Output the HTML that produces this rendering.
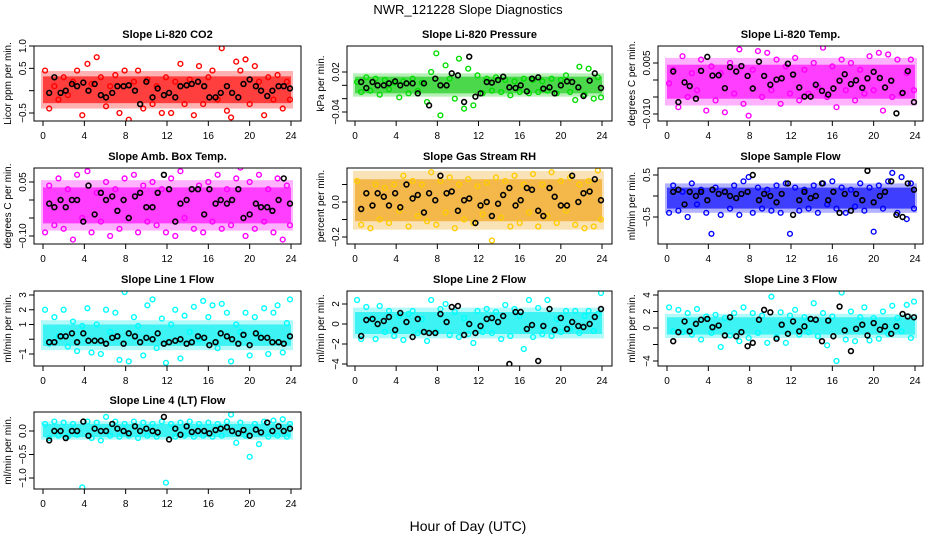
<!DOCTYPE html>
<html><head><meta charset="utf-8">
<style>
html,body{margin:0;padding:0;background:#fff;}
svg{display:block;font-family:"Liberation Sans",Arial,sans-serif;}
</style></head>
<body>
<svg id="chart" width="936" height="540" viewBox="0 0 936 540" xmlns="http://www.w3.org/2000/svg">
<rect width="936" height="540" fill="#fff"/>
<text x="468" y="14" text-anchor="middle" font-size="13">NWR_121228  Slope Diagnostics</text>
<text x="468" y="531" text-anchor="middle" font-size="14">Hour of Day (UTC)</text>
</svg>
<script>
const xTicks = [0,4,8,12,16,20,24];
const colorHours = [0.2,0.6,1.1,1.5,2.0,2.4,2.9,3.3,3.8,4.3,4.7,5.2,5.6,6.1,6.5,7.0,7.4,7.9,8.3,8.8,9.2,9.7,10.1,10.6,11.0,11.5,11.9,12.4,12.8,13.3,13.7,14.2,14.6,15.1,15.5,16.0,16.4,16.9,17.3,17.8,18.2,18.7,19.1,19.6,20.0,20.5,20.9,21.4,21.8,22.3,22.7,23.2,23.6,23.9];
const blackHours = [0.6,1.1,1.7,2.2,2.8,3.3,3.9,4.4,5.0,5.6,6.1,6.7,7.2,7.8,8.3,8.9,9.4,10.0,10.6,11.1,11.7,12.2,12.8,13.3,13.9,14.4,15.0,15.6,16.1,16.7,17.2,17.8,18.3,18.9,19.4,20.0,20.6,21.1,21.7,22.2,22.8,23.3,23.9];

const co2Color = [0.45,-0.4,0.1,-0.2,0.3,-0.1,0.2,0.45,-0.55,0.6,0.15,0.75,0.3,-0.35,0.1,0.35,-0.5,0.45,-0.65,0.2,0.45,-0.4,0.25,-0.3,0.1,-0.5,0.3,-0.5,0.2,0.6,-0.3,0.25,-0.55,0.55,-0.3,0.3,0.45,-0.2,0.95,-0.45,-0.6,0.65,0.45,0.7,-0.3,0.55,0.2,-0.55,0.3,-0.2,0.35,-0.4,0.2,-0.2];
const co2Black = [-0.05,0.3,-0.05,0.0,0.15,0.1,0.18,0.0,0.15,-0.1,-0.15,-0.05,0.1,0.1,0.12,0.0,-0.3,0.2,-0.15,0.05,-0.1,-0.05,-0.15,0.1,0.12,0.15,0.2,0.1,-0.15,-0.15,-0.05,0.1,-0.05,-0.15,0.15,0.25,0.1,0.0,-0.12,0.0,0.1,0.1,0.05];
const presColor = [0.005,-0.01,0.012,-0.008,0.01,-0.014,0.008,-0.006,0.004,-0.018,0.006,-0.012,0.01,-0.008,0.004,-0.025,0.02,0.048,-0.045,0.03,0.01,-0.02,0.04,-0.035,0.025,-0.03,0.015,-0.012,0.01,-0.008,0.012,-0.01,0.008,-0.015,0.006,-0.01,0.01,-0.012,0.008,-0.01,0.006,-0.008,0.01,-0.012,0.008,0.015,-0.01,-0.022,0.028,-0.014,0.025,-0.02,0.012,-0.018];
const presBlack = [0.005,-0.004,0.005,0.0,0.0,0.003,0.006,0.0,0.003,0.003,-0.012,0.003,-0.03,0.01,0.0,0.0,0.018,0.015,-0.025,0.043,-0.017,-0.012,0.005,0.004,0.008,0.013,-0.003,-0.004,0.0,-0.009,0.01,0.012,-0.005,-0.003,-0.012,0.0,0.006,0.005,-0.003,-0.016,0.007,0.018,-0.004];
const ltempColor = [-0.001,0.003,-0.008,0.007,-0.005,0.002,-0.003,0.006,-0.009,0.004,-0.006,0.002,-0.0095,0.005,-0.004,0.009,-0.007,-0.0105,0.003,0.0085,-0.005,0.008,-0.003,0.006,-0.007,0.004,-0.004,0.0065,-0.006,0.003,-0.004,0.005,-0.002,0.0095,-0.005,0.004,-0.008,0.006,-0.003,0.005,-0.006,0.003,-0.004,0.007,-0.003,0.008,-0.009,0.0075,-0.005,0.006,-0.004,0.002,0.006,-0.003];
const ltempBlack = [0.0025,-0.0065,-0.0007,-0.0018,-0.0055,0.0027,0.0068,0.0013,0.0014,-0.0024,0.0038,0.0025,0.0041,0.0012,-0.0025,0.0054,0.0012,-0.0014,0.0001,0.0005,0.0048,0.0016,-0.0022,-0.0049,-0.0049,-0.0014,-0.0032,-0.0043,-0.0025,-0.0002,0.0017,-0.0012,-0.0001,-0.0023,0.0005,0.0024,0.0006,-0.0022,-0.0002,-0.0098,-0.0038,0.0026,-0.0065];
const ambColor = [-0.09,0.04,-0.07,0.06,-0.08,0.03,-0.11,0.07,-0.05,0.08,-0.09,0.02,-0.06,0.05,-0.1,0.03,-0.08,0.06,-0.05,0.07,-0.09,0.04,-0.06,0.05,-0.07,0.03,-0.09,0.06,-0.1,0.08,-0.05,0.1,-0.08,0.04,-0.09,0.05,-0.06,0.07,-0.08,0.03,-0.07,0.06,0.09,-0.1,0.05,-0.08,0.07,-0.06,0.03,-0.09,0.06,-0.11,0.04,-0.07];
const ambBlack = [-0.01,-0.02,0.0,-0.02,0.0,0.0,-0.06,0.04,-0.04,0.02,0.0,0.01,-0.03,0.0,-0.05,0.01,0.02,-0.02,-0.02,0.02,0.07,0.03,-0.06,-0.01,0.0,0.03,0.03,-0.04,0.03,-0.01,0.0,-0.01,0.0,0.03,-0.05,-0.04,-0.01,-0.02,-0.02,-0.03,0.0,0.06,-0.01];
const rhColor = [0.12,-0.13,0.05,-0.15,0.1,-0.1,0.08,-0.12,0.1,-0.05,0.15,-0.14,0.12,-0.08,0.1,-0.11,0.17,-0.13,0.12,-0.06,0.14,-0.15,0.1,-0.1,0.13,-0.12,0.09,-0.07,0.11,-0.22,0.14,-0.09,0.12,-0.14,0.15,-0.12,0.1,-0.06,0.16,-0.14,0.1,-0.08,0.17,-0.12,0.12,-0.05,0.14,-0.13,0.1,-0.15,0.12,-0.14,0.18,-0.1];
const rhBlack = [-0.04,0.05,-0.02,0.05,0.03,-0.02,0.05,-0.03,0.1,0.02,0.04,-0.06,0.05,0.01,0.15,0.05,0.06,-0.05,0.01,0.02,-0.12,-0.02,0.0,-0.08,-0.01,0.04,0.08,-0.02,0.01,0.08,0.07,-0.05,-0.08,0.08,0.03,-0.02,-0.02,0.15,0.0,0.05,0.06,0.13,0.01];
const sampColor = [-0.4,0.25,-0.35,0.1,-0.5,0.3,-0.2,0.15,-0.4,-0.9,0.2,-0.45,0.1,-0.3,0.25,-0.45,0.35,0.45,-0.4,0.2,-0.3,0.15,-0.35,0.25,-0.4,0.3,-0.9,0.2,-0.35,0.15,-0.3,0.25,-0.4,0.3,-0.2,0.35,-0.3,0.2,-0.4,0.15,-0.25,0.3,-0.35,0.2,-0.85,0.25,-0.3,0.35,0.55,-0.4,0.45,-0.55,0.3,-0.3];
const sampBlack = [0.1,0.15,-0.2,0.1,0.0,0.1,-0.1,0.15,0.05,0.1,0.0,-0.05,0.05,0.1,0.5,-0.1,0.05,0.0,-0.15,0.05,0.3,-0.45,-0.1,0.1,-0.05,0.0,0.3,-0.1,0.1,-0.4,0.05,-0.35,0.05,-0.1,0.6,-0.15,0.0,0.1,0.35,-0.45,-0.5,0.3,0.15];
const l1Color = [2.0,-0.3,1.5,0.2,2.0,-0.5,1.2,-0.8,0.9,2.1,-0.9,1.0,-1.0,2.0,0.5,1.8,-1.4,3.2,-1.5,1.5,0.9,-1.1,2.3,2.7,-0.6,1.4,-1.6,1.0,2.0,-1.3,1.6,0.5,2.2,0.0,2.6,1.5,2.3,-0.6,2.4,1.8,-1.5,1.0,0.5,1.8,-1.1,1.5,0.3,2.1,-1.0,1.8,2.3,-0.9,1.1,2.7];
const l1Black = [-0.2,-0.2,0.2,0.2,0.4,-0.2,0.4,-0.1,-0.1,-0.1,-0.3,0.1,0.2,-0.3,0.4,0.2,-0.2,0.1,0.0,0.4,-0.3,-0.2,-0.1,0.0,-0.3,-0.2,0.2,0.1,-0.4,-0.2,0.4,0.2,0.0,-0.3,0.3,-0.4,0.4,0.1,0.1,-0.2,-0.2,-0.3,0.2];
const l2Color = [2.4,-1.5,1.7,0.5,-1.5,1.8,-0.8,1.3,-1.2,0.8,-1.6,1.0,1.3,-0.9,0.5,-1.7,2.4,-0.8,1.5,2.0,-1.1,1.2,-1.3,0.6,-1.0,-1.9,1.3,-0.8,1.5,-0.9,1.2,-1.5,1.9,-1.2,1.5,0.8,-2.5,2.4,-1.3,1.6,-1.0,2.4,-1.2,0.5,-0.8,1.3,-0.5,1.3,-0.9,0.8,1.3,-0.7,1.0,3.1];
const l2Black = [-1.2,0.4,0.5,0.0,0.3,0.7,-0.6,1.1,0.2,-1.3,0.5,-0.8,-0.9,-0.9,1.0,0.2,1.7,1.8,-1.1,0.0,-0.9,-0.2,0.5,0.6,0.2,0.8,-4.0,1.2,1.2,-0.5,-0.1,-3.7,-0.2,1.5,-0.6,0.6,-0.5,0.2,-0.2,-0.3,0.0,0.7,1.5];
const l3Color = [2.5,-0.4,2.2,-0.5,1.8,-0.8,2.3,-1.4,1.4,-0.6,1.6,-2.3,1.2,-0.9,1.8,-1.6,2.5,-1.2,1.8,-0.6,1.5,-1.8,3.8,-1.1,1.9,-1.8,1.5,2.2,-0.8,1.3,-0.5,3.0,-1.0,1.8,-2.1,1.4,-4.0,4.3,-1.4,2.0,-1.6,1.3,2.5,-1.5,1.2,-1.3,2.0,-0.7,2.7,1.2,-0.4,2.8,-1.2,3.2];
const l3Black = [-1.6,-0.5,0.8,-0.4,0.5,1.0,1.1,0.1,0.3,-0.9,1.3,-1.0,-0.5,-2.2,-1.8,1.0,2.2,1.9,-1.3,0.4,-0.7,0.8,-0.4,0.2,1.1,1.0,-1.6,0.9,-1.0,2.6,-0.3,-2.8,-0.1,0.4,-0.9,0.6,-0.2,0.2,-0.7,0.2,1.7,1.4,1.3];
const l4Color = [0.15,-0.15,0.2,-0.1,0.18,-0.12,0.15,-0.08,-1.2,0.2,-0.15,0.18,-0.2,0.3,-0.1,0.2,-0.12,0.15,-0.1,0.2,-0.15,0.18,-0.1,0.15,-0.12,0.2,-1.1,0.15,-0.12,0.18,-0.1,0.2,-0.12,0.15,-0.1,0.18,-0.12,0.15,-0.1,0.2,0.35,-0.25,0.18,-0.1,-0.55,0.15,-0.28,0.2,-0.12,0.22,-0.1,0.25,-0.12,0.15];
const l4Black = [-0.2,0.0,0.0,-0.15,0.0,0.0,0.2,-0.1,0.05,0.0,0.0,0.15,0.05,0.0,-0.05,0.1,0.0,0.05,0.0,-0.03,0.3,-0.18,0.05,-0.08,0.1,-0.02,0.0,0.0,-0.05,0.02,0.05,0.08,0.0,-0.05,0.02,-0.1,0.03,-0.03,0.18,0.0,0.1,0.0,0.05];

const bandCo2 = [-0.28,0.32];
const bandPres = [-0.012,0.013];
const bandLtemp = [-0.0055,0.0045];
const bandAmb = [-0.065,0.035];
const bandRh = [-0.11,0.13];
const bandSamp = [-0.3,0.2];
const bandL1 = [-0.45,1.0];
const bandL2 = [-1.0,1.2];
const bandL3 = [-0.8,1.3];
const bandL4 = [-0.13,0.15];

const ticksCo2 = [-0.5,0,0.5,1.0], labelsCo2 = ["\u22120.5","","0.5","1.0"];
const ticksPres = [-0.04,-0.02,0,0.02], labelsPres = ["\u22120.04","","","0.02"];
const ticksLtemp = [-0.01,-0.005,0,0.005], labelsLtemp = ["\u22120.010","","","0.005"];
const ticksAmb = [-0.1,-0.05,0,0.05], labelsAmb = ["\u22120.10","","","0.05"];
const ticksRh = [-0.2,-0.1,0,0.1], labelsRh = ["\u22120.2","","0.0",""];
const ticksSamp = [-0.5,0,0.5], labelsSamp = ["\u22120.5","","0.5"];
const ticksL1 = [-1,0,1,2,3], labelsL1 = ["\u22121","","1","2","3"];
const ticksL2 = [-4,-2,0,2], labelsL2 = ["\u22124","\u22122","0","2"];
const ticksL3 = [-4,-2,0,2,4], labelsL3 = ["\u22124","","0","2","4"];
const ticksL4 = [-1.0,-0.5,0.0], labelsL4 = ["\u22121.0","\u22120.5","0.0"];

const cols = [{l:34,r:301,x0:43,x1:291},{l:347,r:612,x0:355,x1:602},{l:658,r:923,x0:667,x1:915}];
const rows = [{t:46,b:121},{t:168,b:244},{t:291,b:366},{t:412,b:489}];

const panels = [
 {key:'co2',title:'Slope Li-820 CO2',ylab:'Licor ppm per min.',c:0,r:0,vTop:1.0,yTop:46,vRef:-0.5,yRef:113,col:'#ff0000',band:'#ff0000',cv:co2Color,bv:co2Black,bd:bandCo2,tk:ticksCo2,tl:labelsCo2},
 {key:'pressure',title:'Slope Li-820 Pressure',ylab:'kPa per min.',c:1,r:0,vTop:0.02,yTop:72,vRef:-0.04,yRef:112,col:'#00dd00',band:'#11cc11',cv:presColor,bv:presBlack,bd:bandPres,tk:ticksPres,tl:labelsPres},
 {key:'li-temp',title:'Slope Li-820 Temp.',ylab:'degrees C per min.',c:2,r:0,vTop:0.005,yTop:63,vRef:-0.01,yRef:114,col:'#ff00ff',band:'#ff00ff',cv:ltempColor,bv:ltempBlack,bd:bandLtemp,tk:ticksLtemp,tl:labelsLtemp},
 {key:'amb-temp',title:'Slope Amb. Box Temp.',ylab:'degrees C per min.',c:0,r:1,vTop:0.05,yTop:182,vRef:-0.1,yRef:236,col:'#ff00ff',band:'#ff00ff',cv:ambColor,bv:ambBlack,bd:bandAmb,tk:ticksAmb,tl:labelsAmb},
 {key:'gas-rh',title:'Slope Gas Stream RH',ylab:'percent per min.',c:1,r:1,vTop:0,yTop:202,vRef:-0.2,yRef:237,col:'#ffcc00',band:'#f0a010',cv:rhColor,bv:rhBlack,bd:bandRh,tk:ticksRh,tl:labelsRh},
 {key:'sample-flow',title:'Slope Sample Flow',ylab:'ml/min per min.',c:2,r:1,vTop:0.5,yTop:175,vRef:-0.5,yRef:217,col:'#0000ff',band:'#0000ff',cv:sampColor,bv:sampBlack,bd:bandSamp,tk:ticksSamp,tl:labelsSamp},
 {key:'line1-flow',title:'Slope Line 1 Flow',ylab:'ml/min per min.',c:0,r:2,vTop:3,yTop:295,vRef:-1,yRef:354,col:'#00ffff',band:'#00f0f0',cv:l1Color,bv:l1Black,bd:bandL1,tk:ticksL1,tl:labelsL1},
 {key:'line2-flow',title:'Slope Line 2 Flow',ylab:'ml/min per min.',c:1,r:2,vTop:2,yTop:304,vRef:-4,yRef:364,col:'#00ffff',band:'#00f0f0',cv:l2Color,bv:l2Black,bd:bandL2,tk:ticksL2,tl:labelsL2},
 {key:'line3-flow',title:'Slope Line 3 Flow',ylab:'ml/min per min.',c:2,r:2,vTop:4,yTop:295,vRef:-4,yRef:361,col:'#00ffff',band:'#00f0f0',cv:l3Color,bv:l3Black,bd:bandL3,tk:ticksL3,tl:labelsL3},
 {key:'line4-flow',title:'Slope Line 4 (LT) Flow',ylab:'ml/min per min.',c:0,r:3,vTop:0,yTop:431,vRef:-1,yRef:478,col:'#00ffff',band:'#00f0f0',cv:l4Color,bv:l4Black,bd:bandL4,tk:ticksL4,tl:labelsL4}
];

const NS='http://www.w3.org/2000/svg';
const svg=document.getElementById('chart');
function mk(tag,attrs,parent){const e=document.createElementNS(NS,tag);for(const k in attrs)e.setAttribute(k,attrs[k]);(parent||svg).appendChild(e);return e;}

panels.forEach(p=>{
  const C=cols[p.c],R=rows[p.r];
  const xs=h=>C.x0+(h/24)*(C.x1-C.x0);
  const ys=v=>p.yTop+(v-p.vTop)*(p.yRef-p.yTop)/(p.vRef-p.vTop);
  const g=mk('g',{});
  
  
  const clipId='clip-'+p.key;
  const cp=mk('clipPath',{id:clipId},g);
  mk('rect',{x:C.l,y:R.t,width:C.r-C.l,height:R.b-R.t},cp);
  const t=mk('text',{x:(C.l+C.r)/2,y:R.t-8,'text-anchor':'middle','font-size':'11','font-weight':'bold'},g);
  t.textContent=p.title;
  
  
  const pg=mk('g',{'clip-path':'url(#'+clipId+')'},g);
  const span=p.bd[1]-p.bd[0];
  const outer=mk('rect',{x:xs(0)-2,y:ys(p.bd[1]+span*0.2),width:xs(24)-xs(0)+4,height:ys(p.bd[0]-span*0.2)-ys(p.bd[1]+span*0.2),fill:p.band,opacity:'0.3'},pg);
  
  
  const band=mk('rect',{x:xs(0),y:ys(p.bd[1]),width:xs(24)-xs(0),height:ys(p.bd[0])-ys(p.bd[1]),fill:p.band,opacity:'0.65'},pg);
  
  
  const n=Math.min(colorHours.length,p.cv.length);
  for(let i=0;i<n;i++){
    const c=mk('circle',{cx:xs(colorHours[i]),cy:ys(p.cv[i]),r:2.4,fill:'none',stroke:p.col,'stroke-width':1.4},pg);
    
    
  }
  const m=Math.min(blackHours.length,p.bv.length);
  for(let i=0;i<m;i++){
    const c=mk('circle',{cx:xs(blackHours[i]),cy:ys(p.bv[i]),r:2.4,fill:'none',stroke:'#000','stroke-width':1.6},pg);
    
    
  }
  const box=mk('rect',{x:C.l,y:R.t,width:C.r-C.l,height:R.b-R.t,fill:'none',stroke:'#000','stroke-width':1},g);
  
  
  xTicks.forEach(h=>{
    mk('line',{x1:xs(h),x2:xs(h),y1:R.b,y2:R.b+5,stroke:'#000'},g);
    const tl=mk('text',{x:xs(h),y:R.b+18,'text-anchor':'middle','font-size':'10'},g);
    tl.textContent=String(h);
    
    
  });
  p.tk.forEach((v,i)=>{
    const y=ys(v);
    mk('line',{x1:C.l-5,x2:C.l,y1:y,y2:y,stroke:'#000'},g);
    if(p.tl[i]){
      const tl=mk('text',{x:C.l-8,y:y,'text-anchor':'middle','font-size':'10',transform:'rotate(-90 '+(C.l-8)+' '+y+')'},g);
      tl.textContent=p.tl[i];
      
      
    }
  });
  const yl=mk('text',{x:C.l-23,y:(R.t+R.b)/2,'text-anchor':'middle','font-size':'10',transform:'rotate(-90 '+(C.l-23)+' '+((R.t+R.b)/2)+')'},g);
  yl.textContent=p.ylab;
  
  
});
</script>
</body></html>
